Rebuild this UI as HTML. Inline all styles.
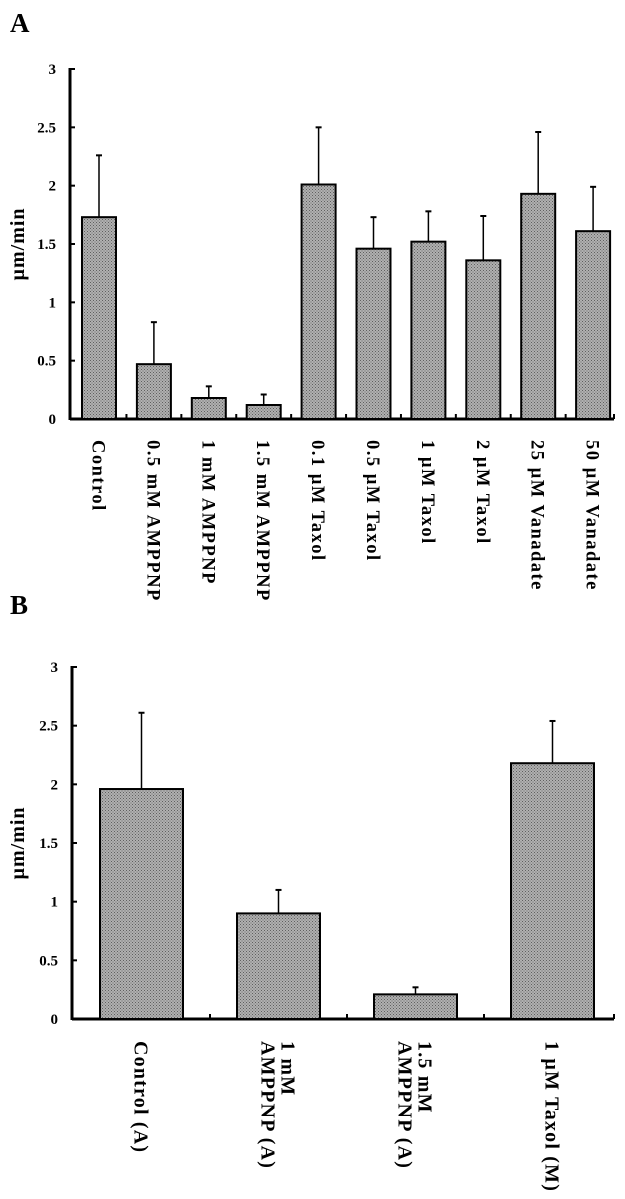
<!DOCTYPE html>
<html><head><meta charset="utf-8"><style>
html,body{margin:0;padding:0;background:#fff;}
svg{display:block;font-family:"Liberation Serif",serif;}
</style></head><body>
<svg id="chart" width="625" height="1199" viewBox="0 0 625 1199" xmlns="http://www.w3.org/2000/svg">
<defs>
<pattern id="dots" width="3" height="3" patternUnits="userSpaceOnUse">
<rect width="3" height="3" fill="#b0b0b0"/>
<rect width="1" height="1" fill="#5f5f5f"/>
<rect x="1.5" y="1.5" width="1" height="1" fill="#6a6a6a"/>
</pattern>
</defs>
<text x="10" y="32" font-size="27" font-weight="bold">A</text>
<text x="10" y="614" font-size="27" font-weight="bold">B</text>
<g id="panelA"></g>
<g id="panelB"></g>
</svg>
<script>
const catsA = ["Control","0.5 mM AMPPNP","1 mM AMPPNP","1.5 mM AMPPNP","0.1 \u00b5M Taxol","0.5 \u00b5M Taxol","1 \u00b5M Taxol","2 \u00b5M Taxol","25 \u00b5M Vanadate","50 \u00b5M Vanadate"];
const valsA = [1.73,0.47,0.18,0.12,2.01,1.46,1.52,1.36,1.93,1.61];
const errA  = [0.53,0.36,0.10,0.09,0.49,0.27,0.26,0.38,0.53,0.38];
const catsB = [["Control (A)"],["1 mM","AMPPNP (A)"],["1.5 mM","AMPPNP (A)"],["1 \u00b5M Taxol (M)"]];
const valsB = [1.96,0.90,0.21,2.18];
const errB  = [0.65,0.20,0.06,0.36];
const ticks = [0,0.5,1,1.5,2,2.5,3];
const tickLabels = ["0","0.5","1","1.5","2","2.5","3"];

const NS="http://www.w3.org/2000/svg";
function mk(tag,attrs,parent){const e=document.createElementNS(NS,tag);for(const k in attrs)e.setAttribute(k,attrs[k]);parent.appendChild(e);return e;}

function draw(g,cfg,cats,vals,errs,prefix){
  const y=v=>cfg.y0-(v/3)*(cfg.y0-cfg.y3);
  const x=i=>cfg.left+i*cfg.pitch;
  let ax=mk('line',{x1:cfg.ax,y1:cfg.y3-1,x2:cfg.ax,y2:cfg.y0+1,stroke:'#000','stroke-width':3},g);
  
  
  let bx=mk('line',{x1:cfg.ax,y1:cfg.y0,x2:cfg.xend,y2:cfg.y0,stroke:'#000','stroke-width':3},g);
  
  
  mk('line',{x1:cfg.xend,y1:cfg.y0,x2:cfg.xend,y2:cfg.y0-5,stroke:'#000','stroke-width':2},g);
  ticks.forEach((t,i)=>{
    const tk=mk('line',{x1:cfg.ax,y1:y(t),x2:cfg.ax+5,y2:y(t),stroke:'#000','stroke-width':2},g);
    
    
    const tl=mk('text',{x:cfg.ax-14,y:y(t)+5,'text-anchor':'end','font-size':15,'font-weight':'bold'},g);
    tl.textContent=tickLabels[i];
    
    
  });
  const yt=mk('text',{transform:`translate(${cfg.titleX},${(cfg.y0+cfg.y3)/2}) rotate(-90)`,'text-anchor':'middle','font-size':20,'font-weight':'bold','letter-spacing':1},g);
  yt.textContent='\u00b5m/min';
  
  
  vals.forEach((v,i)=>{
    const bxl=x(i), cx=bxl+cfg.bw/2;
    if(i>0){const st=mk('line',{x1:bxl-(cfg.pitch-cfg.bw)/2,y1:cfg.y0,x2:bxl-(cfg.pitch-cfg.bw)/2,y2:cfg.y0-5,stroke:'#000','stroke-width':2},g);
      
      }
    const el=mk('line',{x1:cx,y1:y(v),x2:cx,y2:y(v+errs[i]),stroke:'#000','stroke-width':1.5},g);
    
    
    const cap=mk('line',{x1:cx-3,y1:y(v+errs[i]),x2:cx+3,y2:y(v+errs[i]),stroke:'#000','stroke-width':2},g);
    
    
    const r=mk('rect',{x:bxl,y:y(v),width:cfg.bw,height:cfg.y0-y(v),fill:'url(#dots)',stroke:'#000','stroke-width':2},g);
    
    
    const lines=Array.isArray(cats[i])?cats[i]:[cats[i]];
    const t=mk('text',{transform:`translate(${cx},${cfg.labTop}) rotate(90)`,'font-size':cfg.fs,'font-weight':'bold','letter-spacing':cfg.ls},g);
    
    
    const n=lines.length;
    lines.forEach((s,j)=>{
      const sp=mk('tspan',{x:0,y:((j-(n-1)/2)*cfg.lh+cfg.fs*0.35)},t);
      sp.textContent=s;
    });
  });
}
draw(document.getElementById('panelA'),{ax:70,y0:419,y3:69,left:82,pitch:54.9,bw:34,xend:614,labTop:440,titleX:24,fs:18.5,ls:1.5,lh:18},catsA,valsA,errA,'panel-a');
draw(document.getElementById('panelB'),{ax:72,y0:1019,y3:667,left:100,pitch:137,bw:83,xend:614,labTop:1041,titleX:24,fs:20,ls:1.2,lh:20},catsB,valsB,errB,'panel-b');
</script>
</body></html>
